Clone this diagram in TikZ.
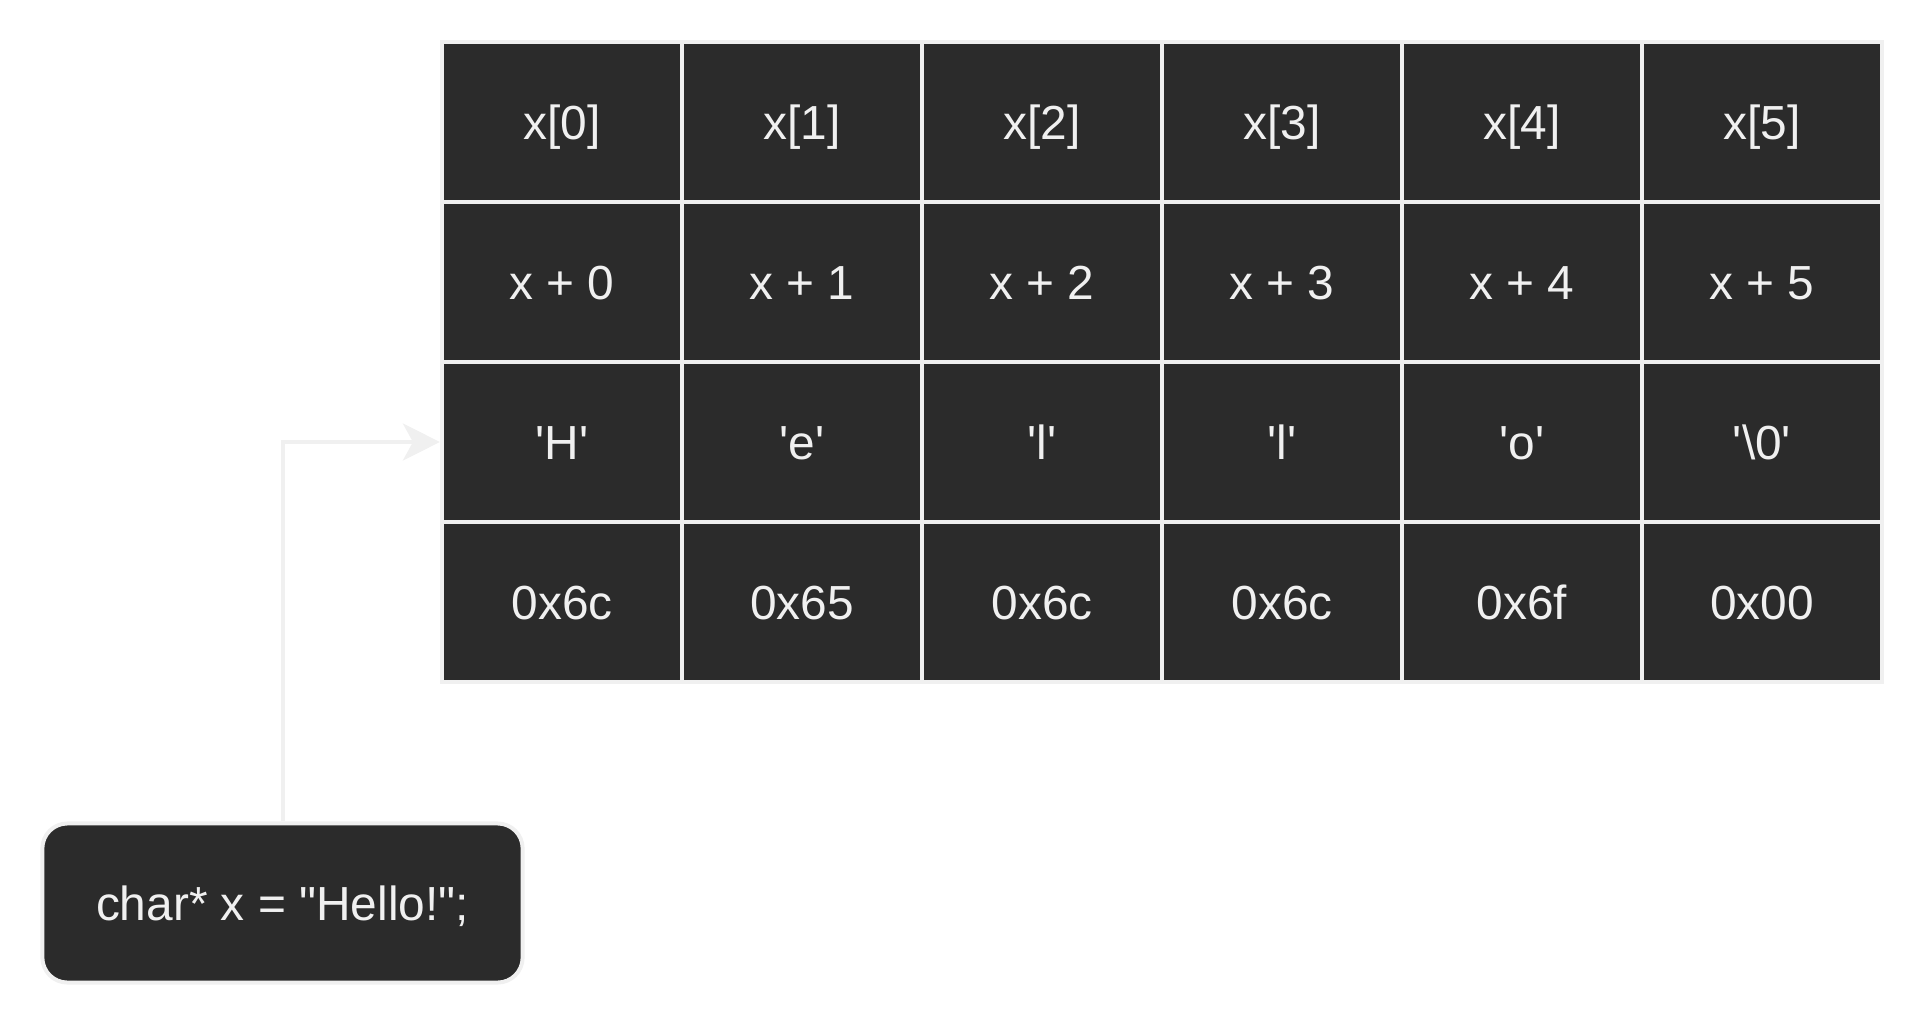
\documentclass[tikz,border=0pt]{standalone}
\usepackage{fontspec}
\setmainfont{Liberation Sans}
\usepackage{tikz}
\usetikzlibrary{arrows.meta}
\definecolor{cellbg}{HTML}{2B2B2B}
\definecolor{lightline}{HTML}{F0F0F0}
\newcommand{\sq}{\textquotesingle}
\newcommand{\dq}{\textquotedbl}

\begin{document}
\begin{tikzpicture}[x=0.01cm, y=-0.01cm]
\useasboundingbox (0,0) rectangle (1924,1024);
\tikzstyle{every node} = [rectangle, fill=cellbg, draw=lightline, text=lightline, line width=0.04cm, minimum width=2.4cm, minimum height=1.6cm, inner sep=0cm, text height=0.34cm, text depth=0cm, font=\fontsize{13.6pt}{16pt}\selectfont]
% index row
\node (ix0) at (562,122) {x[0]};
\node (ix1) at (802,122) {x[1]};
\node (ix2) at (1042,122) {x[2]};
\node (ix3) at (1282,122) {x[3]};
\node (ix4) at (1522,122) {x[4]};
\node (ix5) at (1762,122) {x[5]};
% pointer row
\node (pt0) at (562,282) {x + 0};
\node (pt1) at (802,282) {x + 1};
\node (pt2) at (1042,282) {x + 2};
\node (pt3) at (1282,282) {x + 3};
\node (pt4) at (1522,282) {x + 4};
\node (pt5) at (1762,282) {x + 5};
% char row
\node (ch0) at (562,442) {\sq H\sq};
\node (ch1) at (802,442) {\sq e\sq};
\node (ch2) at (1042,442) {\sq l\sq};
\node (ch3) at (1282,442) {\sq l\sq};
\node (ch4) at (1522,442) {\sq o\sq};
\node (ch5) at (1762,442) {\sq\textbackslash 0\sq};
% hex row
\node (hx0) at (562,602) {0x6c};
\node (hx1) at (802,602) {0x65};
\node (hx2) at (1042,602) {0x6c};
\node (hx3) at (1282,602) {0x6c};
\node (hx4) at (1522,602) {0x6f};
\node (hx5) at (1762,602) {0x00};
\tikzstyle{every node} = [rectangle, rounded corners=0.25cm, fill=cellbg, draw=lightline, text=lightline, line width=0.04cm, minimum width=4.8cm, minimum height=1.59cm, inner sep=0cm, text height=0.34cm, text depth=0cm, font=\fontsize{13.6pt}{16pt}\selectfont]
\node (decl) at (282.5,903) {char* x = \dq Hello!\dq;};
\draw[lightline, line width=0.04cm, -{Stealth[length=0.37cm, width=0.37cm, inset=0.1cm]}] (decl) |- (ch0);
\end{tikzpicture}
\end{document}
